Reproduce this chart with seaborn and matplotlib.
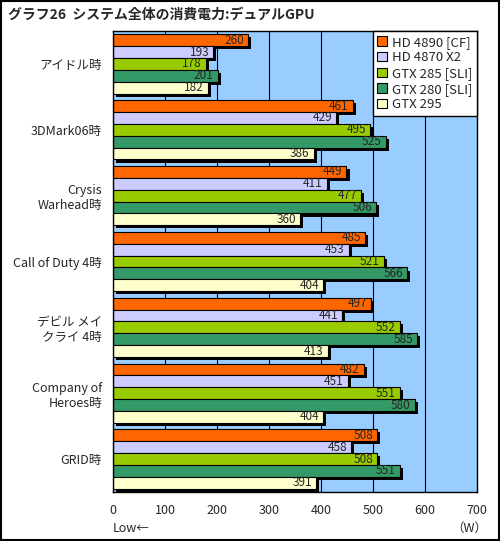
import pandas as pd
import matplotlib
matplotlib.use('Agg')
import matplotlib.pyplot as plt
import matplotlib.patheffects as pe
import seaborn as sns

# --- データ ---
categories = ['アイドル時', '3DMark06時', 'Crysis\nWarhead時', 'Call of Duty 4時',
              'デビル メイ\nクライ 4時', 'Company of\nHeroes時', 'GRID時']
series_names = ['HD 4890 [CF]', 'HD 4870 X2', 'GTX 285 [SLI]', 'GTX 280 [SLI]', 'GTX 295']
hd4890_cf = [260, 461, 449, 485, 497, 482, 508]
hd4870_x2 = [193, 429, 411, 453, 441, 451, 458]
gtx285_sli = [178, 495, 477, 521, 552, 551, 508]
gtx280_sli = [201, 525, 506, 566, 585, 580, 551]
gtx295 = [182, 386, 360, 404, 413, 404, 391]
x_ticks = [0, 100, 200, 300, 400, 500, 600, 700]

colors = ['#FF6600', '#CCCCFF', '#99CC00', '#339966', '#FFFFCC']

rows = []
for name, vals in zip(series_names, [hd4890_cf, hd4870_x2, gtx285_sli, gtx280_sli, gtx295]):
    for cat, v in zip(categories, vals):
        rows.append({'条件': cat, 'GPU': name, '消費電力': v})
df = pd.DataFrame(rows)

sns.set_style('white')
plt.rcParams['font.family'] = ['Noto Sans CJK JP', 'DejaVu Sans']

fig = plt.figure(figsize=(5.0, 5.41), dpi=100)
ax = fig.add_axes([0.226, 0.0906, 0.728, 0.852])
ax.set_facecolor('#99CCFF')

sns.barplot(data=df, y='条件', x='消費電力', hue='GPU', order=categories,
            hue_order=series_names, palette=colors, orient='h', width=0.9,
            edgecolor='black', linewidth=0.8, saturation=1, ax=ax)

# 黒い影 (右下にずらす)
shadow = [pe.SimplePatchShadow(offset=(2.2, -2.2), shadow_rgbFace='black', alpha=1.0), pe.Normal()]
for cont in ax.containers:
    for bar in cont:
        bar.set_path_effects(shadow)
    ax.bar_label(cont, padding=-3, fontsize=8.5, label_type='edge',
                 labels=[f'{int(b.get_width())}' for b in cont])
for t in ax.texts:
    t.set_ha('right')

ax.set_xlim(0, 700)
ax.set_ylim(len(categories) - 0.5, -0.5)
ax.set_xticks(x_ticks)
ax.set_xticklabels([str(v) for v in x_ticks], fontsize=9)
ax.tick_params(axis='x', length=0, pad=9)
ax.tick_params(axis='y', length=0, pad=8, labelsize=9)
for xv in x_ticks[1:-1]:
    ax.axvline(xv, color='black', linewidth=0.8, zorder=0.5)
for sp in ax.spines.values():
    sp.set_color('black')
    sp.set_linewidth(1)
ax.set_xlabel('')
ax.set_ylabel('')

leg = ax.legend(loc='upper right', fontsize=9.5, frameon=True, fancybox=False,
                edgecolor='black', framealpha=1, borderpad=0.35, labelspacing=0.2,
                handlelength=0.7, handleheight=0.7, handletextpad=0.4,
                borderaxespad=0.0)
leg.get_frame().set_linewidth(1)

fig.text(0.015, 0.972, 'グラフ26  システム全体の消費電力:デュアルGPU', fontsize=10,
         fontweight='bold', va='center', ha='left')
fig.text(0.226, 0.024, 'Low←', fontsize=9, va='center', ha='left')
fig.text(0.975, 0.024, '（W）', fontsize=9, va='center', ha='right')

border = plt.Rectangle((0.002, 0.002), 0.996, 0.996, transform=fig.transFigure,
                       fill=False, edgecolor='black', linewidth=1.5)
fig.patches.append(border)

fig.savefig('out.png', dpi=100)
